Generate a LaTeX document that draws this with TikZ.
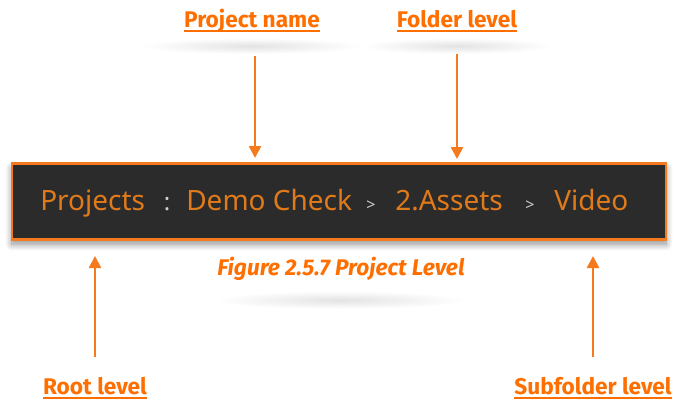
\documentclass[tikz,border=0pt]{standalone}
\usepackage{fontspec}
\setmainfont{Fira Sans}
\newfontfamily\boxfont{Noto Sans}
\usetikzlibrary{arrows.meta,shadows.blur}
\definecolor{lblorange}{HTML}{FF6F00}
\definecolor{arrorange}{HTML}{F57A1E}
\definecolor{txtorange}{HTML}{E07A1A}
\definecolor{boxbg}{HTML}{2B2B2B}
\definecolor{sepgray}{HTML}{D0D0D0}
\newcommand{\thickul}[1]{\setbox0\hbox{#1}\leavevmode\rlap{\vrule height -1.6pt depth 2.9pt width \wd0}\box0}
\begin{document}
\begin{tikzpicture}[x=0.75pt,y=-0.75pt,
  lbl/.style={text=lblorange,font=\bfseries\fontsize{17}{19}\selectfont,inner sep=0pt},
  crumb/.style={text=txtorange,font=\boxfont\fontsize{21}{23}\selectfont,anchor=base west,inner sep=0pt},
  sep/.style={text=sepgray,font=\boxfont\bfseries\fontsize{12}{13}\selectfont,anchor=base,inner sep=0pt},
  arr/.style={draw=arrorange,line width=1.9pt,-{Triangle[length=9pt,width=9pt]}},
  halo/.style={inner color=black!11,outer color=white}]
\useasboundingbox (0,0) rectangle (673,400);
% soft shadows
\shade[halo] (252,46) ellipse (110 and 8);
\shade[halo] (457,46) ellipse (95 and 8);
\shade[halo] (340,300) ellipse (125 and 9);
% bar
\node[draw=arrorange,line width=1.6pt,fill=boxbg,minimum width=490.5pt,minimum height=57pt,inner sep=0pt,
  blur shadow={shadow xshift=0pt,shadow yshift=-3.5pt,shadow blur steps=10,shadow blur radius=5pt,shadow opacity=45}]
  (bar) at (339,201.5) {};
\node[crumb] (p1) at (40,210) {Projects};
\node[sep,font=\boxfont\fontsize{18}{20}\selectfont] (s1) at (167,210) {:};
\node[crumb] (p2) at (186,210) {Demo Check};
\node[sep] (s2) at (371,210) {>};
\node[crumb] (p3) at (395,210) {2.Assets};
\node[sep] (s3) at (530,210) {>};
\node[crumb] (p4) at (554,210) {Video};
% labels
\node[lbl] (pn) at (252,21) {\thickul{Project name}};
\node[lbl] (fl) at (457,21) {\thickul{Folder level}};
\node[lbl] (rl) at (95,388) {\thickul{Root level}};
\node[lbl] (sl) at (593,388) {\thickul{Subfolder level}};
\node[text=lblorange,font=\bfseries\itshape\fontsize{17}{19}\selectfont,inner sep=0pt] (cap) at (341,269) {Figure 2.5.7 Project Level};
% arrow endpoints
\coordinate (a1s) at (255,56); \coordinate (a1e) at (255,158);
\coordinate (a2s) at (457,54); \coordinate (a2e) at (457,159);
\coordinate (a3s) at (95,357); \coordinate (a3e) at (95,256);
\coordinate (a4s) at (593,357); \coordinate (a4e) at (593,256);
\draw[arr] (a1s) -- (a1e);
\draw[arr] (a2s) -- (a2e);
\draw[arr] (a3s) -- (a3e);
\draw[arr] (a4s) -- (a4e);
\end{tikzpicture}
\end{document}
